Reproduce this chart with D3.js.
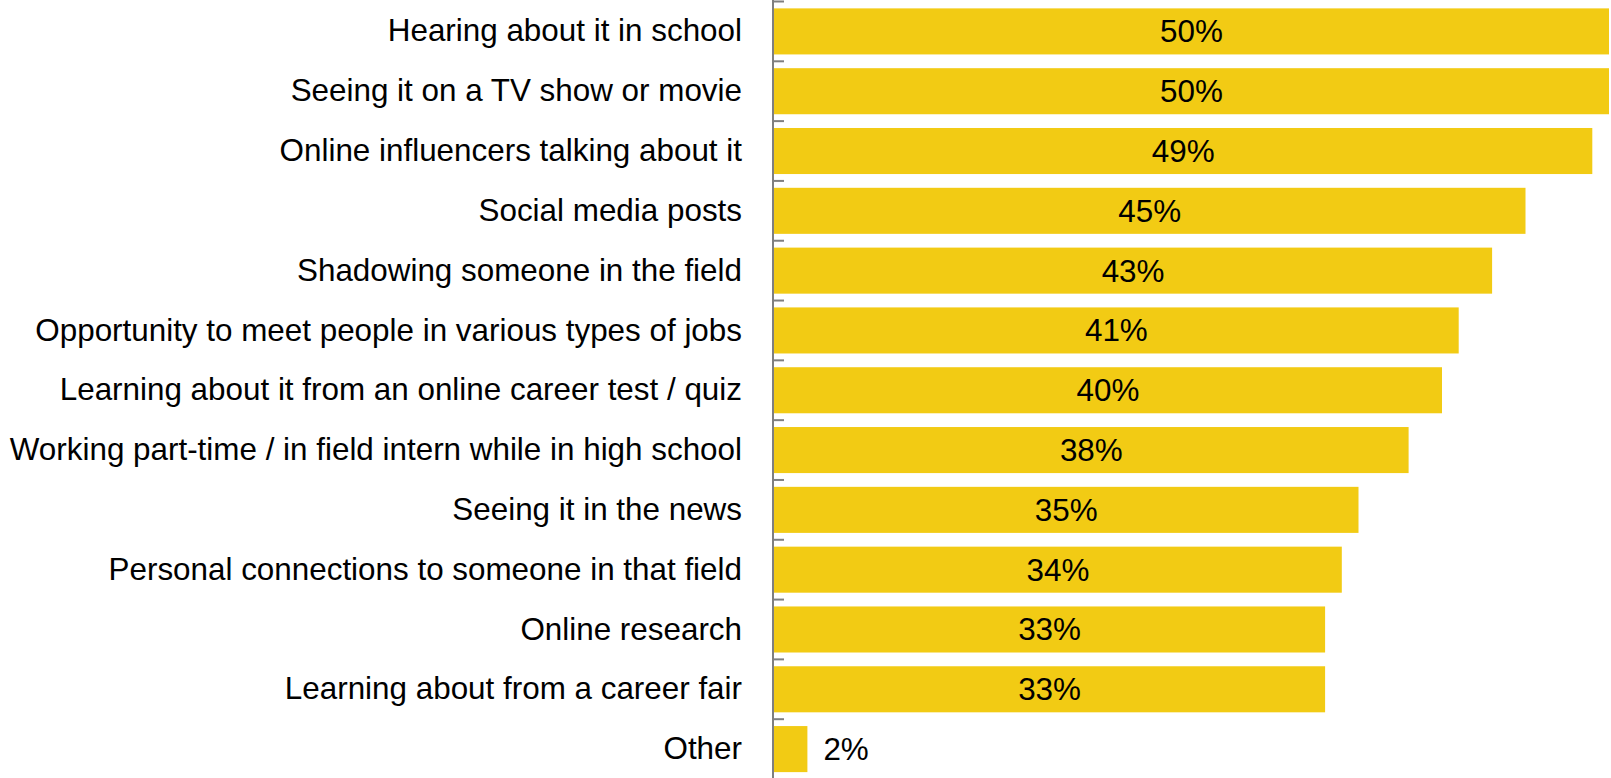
<!DOCTYPE html>
<html>
<head>
<meta charset="utf-8">
<script src="https://cdn.jsdelivr.net/npm/d3@7"></script>
<style>
  html, body { margin: 0; padding: 0; background: #fff; }
  svg { display: block; }
  text { font-family: "Liberation Sans", Arial, sans-serif; }
</style>
</head>
<body>
<svg id="chart" width="1611" height="778"></svg>
<script>
// Sources that sparked interest in a career, share of respondents (%)
const categories = [
  "Hearing about it in school",
  "Seeing it on a TV show or movie",
  "Online influencers talking about it",
  "Social media posts",
  "Shadowing someone in the field",
  "Opportunity to meet people in various types of jobs",
  "Learning about it from an online career test / quiz",
  "Working part-time / in field intern while in high school",
  "Seeing it in the news",
  "Personal connections to someone in that field",
  "Online research",
  "Learning about from a career fair",
  "Other"
];
const values = [50, 50, 49, 45, 43, 41, 40, 38, 35, 34, 33, 33, 2];

const width = 1611, height = 778;
const axisX = 774;
const fontSize = 31.4;
const barColor = "#f2cb14";

const svg = d3.select("#chart");

const x = d3.scaleLinear().domain([0, 50]).range([axisX, 1609]);
const y = d3.scaleBand()
  .domain(categories)
  .range([1.5, 779])
  .paddingInner(0.23)
  .paddingOuter(0.115);

const data = categories.map((c, i) => ({ cat: c, val: values[i] }));

// Bars
svg.append("g")
  .selectAll("rect")
  .data(data)
  .join("rect")
  .attr("x", x(0))
  .attr("y", d => y(d.cat))
  .attr("width", d => x(d.val) - x(0))
  .attr("height", y.bandwidth())
  .attr("fill", barColor);

// Value labels: centred inside long bars, just after short bars
svg.append("g")
  .selectAll("text")
  .data(data)
  .join("text")
  .attr("x", d => d.val >= 10 ? (x(0) + x(d.val)) / 2 : x(d.val) + 16)
  .attr("y", d => y(d.cat) + y.bandwidth() / 2)
  .attr("dy", "0.35em")
  .attr("text-anchor", d => d.val >= 10 ? "middle" : "start")
  .attr("font-size", fontSize)
  .attr("fill", "#000")
  .text(d => d.val + "%");

// Category axis
const axis = svg.append("g")
  .attr("transform", `translate(${axisX},0)`)
  .call(d3.axisLeft(y).tickSize(0).tickPadding(32));
axis.select(".domain").remove();
axis.selectAll("text")
  .attr("font-size", fontSize)
  .attr("fill", "#000")
  .attr("font-family", "'Liberation Sans', Arial, sans-serif");

// Axis line with ticks at band boundaries
const gap = (y.step() - y.bandwidth()) / 2;
svg.append("line")
  .attr("x1", axisX - 1).attr("x2", axisX - 1)
  .attr("y1", 0).attr("y2", height)
  .attr("stroke", "#7f7f7f")
  .attr("stroke-width", 2);
svg.append("g")
  .selectAll("line")
  .data(categories)
  .join("line")
  .attr("x1", axisX - 1)
  .attr("x2", axisX + 10)
  .attr("y1", d => y(d) - gap)
  .attr("y2", d => y(d) - gap)
  .attr("stroke", "#7f7f7f")
  .attr("stroke-width", 2);
</script>
</body>
</html>
